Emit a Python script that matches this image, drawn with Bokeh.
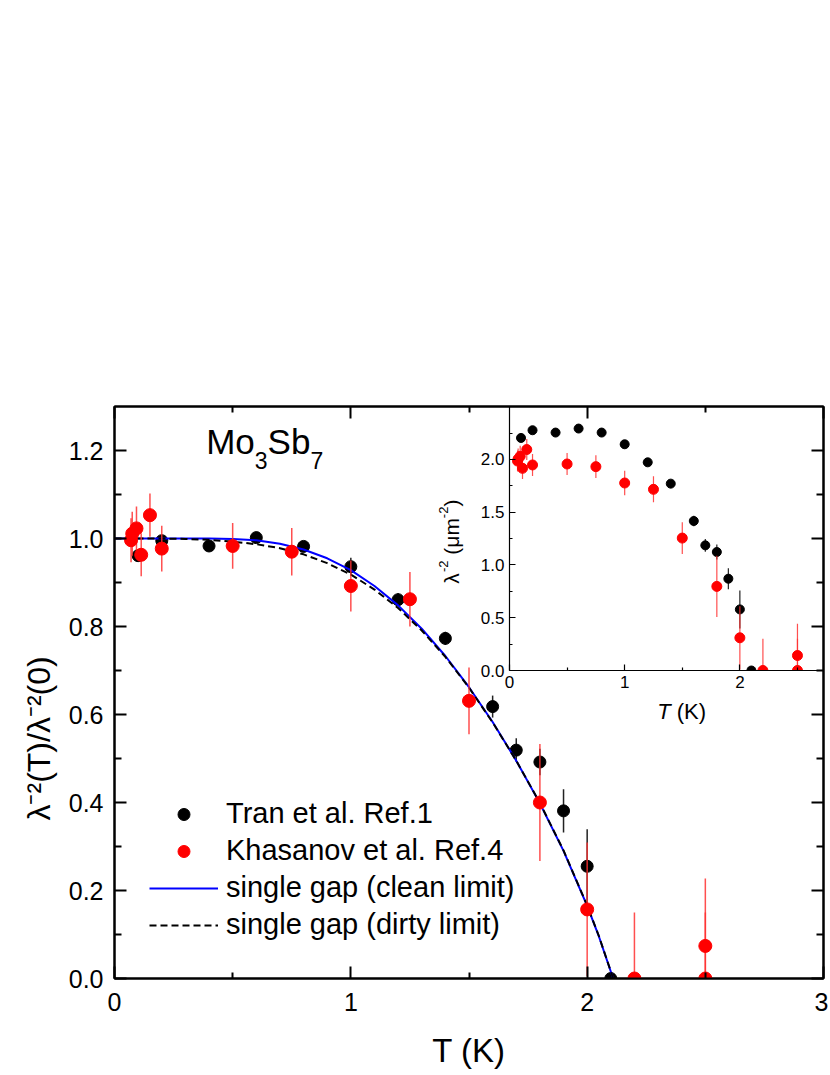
import math
from bokeh.plotting import figure
from bokeh.models import (Range1d, LinearAxis, FixedTicker, PrintfTickFormatter,
                          Label, Legend, LegendItem, Title)
from bokeh.embed import file_html
from bokeh.resources import INLINE

# ---------------- data ----------------
# Tran et al. (normalised, main panel)
T_tran = [0.1, 0.2, 0.4, 0.6, 0.8, 1.0, 1.2, 1.4, 1.6, 1.7, 1.8, 1.9, 2.0, 2.1]
v_tran = [0.961, 0.995, 0.983, 1.002, 0.982, 0.936, 0.861, 0.773, 0.618, 0.519, 0.492, 0.381, 0.255, 0.0]
e_tran = [0.01, 0.01, 0.01, 0.01, 0.01, 0.02, 0.015, 0.015, 0.025, 0.027, 0.03, 0.049, 0.084, 0.01]
# Khasanov et al. (normalised, main panel)
T_kh = [0.07, 0.075, 0.093, 0.113, 0.15, 0.2, 0.5, 0.75, 1.0, 1.25, 1.5, 1.8, 2.0, 2.2, 2.5, 2.5]
v_kh = [0.996, 1.011, 1.023, 0.963, 1.053, 0.977, 0.983, 0.970, 0.892, 0.862, 0.631, 0.400, 0.157, 0.0, 0.074, 0.0]
e_kh = [0.05, 0.05, 0.05, 0.049, 0.049, 0.052, 0.052, 0.054, 0.058, 0.062, 0.076, 0.133, 0.152, 0.15, 0.153, 0.15]
# single-gap fits
T_fit = [0, 0.1, 0.2, 0.3, 0.4, 0.5, 0.6, 0.7, 0.8, 0.9, 1.0, 1.1, 1.2, 1.3, 1.4, 1.5,
         1.6, 1.7, 1.8, 1.9, 2.0, 2.05, 2.11]
fit_clean = [1.0, 1.0, 1.0, 1.0, 1.0, 0.999, 0.996, 0.988, 0.975, 0.955, 0.928, 0.892,
             0.848, 0.795, 0.733, 0.662, 0.583, 0.495, 0.398, 0.290, 0.165, 0.095, 0.0]
fit_dirty = [1.0, 1.0, 1.0, 0.999, 0.997, 0.993, 0.987, 0.978, 0.964, 0.944, 0.918, 0.884,
             0.842, 0.791, 0.731, 0.661, 0.582, 0.495, 0.399, 0.291, 0.166, 0.096, 0.0]
# inset: absolute lambda^-2 (um^-2)
Ti_tran = [0.1, 0.2, 0.4, 0.6, 0.8, 1.0, 1.2, 1.4, 1.6, 1.7, 1.8, 1.9, 2.0, 2.1]
vi_tran = [2.204, 2.277, 2.255, 2.293, 2.255, 2.144, 1.973, 1.771, 1.417, 1.186, 1.123, 0.870, 0.579, 0.0]
ei_tran = [0.02, 0.02, 0.02, 0.02, 0.02, 0.04, 0.03, 0.03, 0.05, 0.06, 0.07, 0.10, 0.18, 0.02]
Ti_kh = [0.07, 0.075, 0.093, 0.113, 0.15, 0.2, 0.5, 0.75, 1.0, 1.25, 1.5, 1.8, 2.0, 2.2, 2.5, 2.5]
vi_kh = [1.985, 2.005, 2.03, 1.916, 2.094, 1.948, 1.957, 1.932, 1.777, 1.717, 1.255, 0.797, 0.310, 0.0, 0.142, 0.0]
ei_kh = [0.10, 0.10, 0.10, 0.10, 0.10, 0.104, 0.104, 0.107, 0.115, 0.123, 0.15, 0.29, 0.30, 0.30, 0.30, 0.30]

main_xticks = [0, 1, 2, 3]
main_xminor = [0.5, 1.5, 2.5]
main_yticks = [0.0, 0.2, 0.4, 0.6, 0.8, 1.0, 1.2]
main_yminor = [0.1, 0.3, 0.5, 0.7, 0.9, 1.1]
ins_xticks = [0, 1, 2]
ins_xminor = [0.5, 1.5, 2.5]
ins_yticks = [0.0, 0.5, 1.0, 1.5, 2.0]
ins_yminor = [0.25, 0.75, 1.25, 1.75, 2.25]

legend_labels = ["Tran et al. Ref.1", "Khasanov et al. Ref.4",
                 "single gap (clean limit)", "single gap (dirty limit)"]
main_xlabel = "T (K)"
main_ylabel = "λ⁻²(T)/λ⁻²(0)"

FONT = "Liberation Sans"
RED = "#ff0000"
BLUE = "#0000ff"
BASE_FIX = 0.45  # baseline correction (em) for hand-laid labels

# character advance widths (em) for hand-laid mixed-style texts
CW = {' ': 0.278, '(': 0.333, ')': 0.333, '/': 0.278, '.': 0.278, '-': 0.333,
      'T': 0.611, 'K': 0.667, 'λ': 0.55, 'μ': 0.576, 'm': 0.833, 'M': 0.833,
      'o': 0.556, 'S': 0.667, 'b': 0.556}


def tw(s, size):
    return sum(CW.get(c, 0.556) for c in s) * size


def pieces(fig, x, y, dx, dy, items, rotated=False, xr="default", yr="default"):
    off = 0.0
    for text, size, style, shift in items:
        lead = len(text) - len(text.lstrip(' '))
        off += lead * CW[' '] * size
        text = text.lstrip(' ')
        fix = BASE_FIX * size
        if rotated:
            lab = Label(x=x, y=y, x_offset=dx - shift - fix, y_offset=dy + off,
                        angle=math.pi / 2, text=text)
        else:
            lab = Label(x=x, y=y, x_offset=dx + off, y_offset=dy + shift + fix, text=text)
        lab.x_range_name = xr
        lab.y_range_name = yr
        lab.text_font = FONT
        lab.text_font_size = f"{size}px"
        lab.text_font_style = style
        lab.text_color = "black"
        lab.text_align = "left"
        lab.text_baseline = "alphabetic"
        fig.add_layout(lab)
        off += tw(text, size)


def style_axis(ax, ticks, minor, fmt, fs, major_in, minor_in, lw, standoff, labels=True):
    ax.ticker = FixedTicker(ticks=ticks, minor_ticks=minor)
    ax.formatter = PrintfTickFormatter(format=fmt)
    ax.major_tick_in = major_in
    ax.major_tick_out = 0
    ax.minor_tick_in = minor_in
    ax.minor_tick_out = 0
    ax.axis_line_width = lw
    ax.major_tick_line_width = lw
    ax.minor_tick_line_width = lw
    ax.axis_line_color = "black"
    ax.major_tick_line_color = "black"
    ax.minor_tick_line_color = "black"
    ax.major_label_text_font = FONT
    ax.major_label_text_color = "black"
    ax.major_label_text_font_size = fs
    ax.major_label_standoff = standoff
    if not labels:
        ax.major_label_text_font_size = "0px"
        ax.major_label_text_color = None
        ax.major_label_standoff = 0


# ---------------- main ----------------
p = figure(width=828, height=1075, x_range=Range1d(0, 3), y_range=Range1d(0, 1.3),
           output_backend="svg", toolbar_location=None, x_axis_type=None, y_axis_type=None,
           min_border_left=114, min_border_right=5, min_border_top=406, min_border_bottom=97,
           outline_line_color="black", outline_line_width=2)
# inset coordinate system placed inside the main frame
p.extra_x_ranges = {"ix": Range1d(-3.429, 2.726)}
p.extra_y_ranges = {"iy": Range1d(-2.919, 2.502)}

xb = LinearAxis(axis_label=main_xlabel)
style_axis(xb, main_xticks, main_xminor, "%d", "25px", 12, 6, 2, 14)
xb.axis_label_text_font = FONT
xb.axis_label_text_font_size = "33px"
xb.axis_label_text_font_style = "normal"
xb.axis_label_text_color = "black"
xb.axis_label_standoff = 18
p.add_layout(xb, "below")
xt = LinearAxis()
style_axis(xt, main_xticks, main_xminor, "%d", "25px", 12, 6, 2, 0, labels=False)
p.add_layout(xt, "above")
yl = LinearAxis()
style_axis(yl, main_yticks, main_yminor, "%.1f", "25px", 12, 7, 2, 11)
p.add_layout(yl, "left")
yr = LinearAxis()
style_axis(yr, main_yticks, main_yminor, "%.1f", "25px", 12, 7, 2, 0, labels=False)
p.add_layout(yr, "right")

# inset axes (fixed inside the frame)
ixa = LinearAxis(x_range_name="ix", y_range_name="iy", fixed_location=0, bounds=(0, 2.726))
style_axis(ixa, ins_xticks, ins_xminor, "%d", "17px", 6, 3, 1.2, 5)
p.add_layout(ixa, "below")
iya = LinearAxis(x_range_name="ix", y_range_name="iy", fixed_location=0, bounds=(0, 2.502))
style_axis(iya, ins_yticks, ins_yminor, "%.1f", "17px", 6, 3, 1.2, 5)
p.add_layout(iya, "left")

# y title, starting where the original starts (below the frame centre)
ytitle = Title(text=main_ylabel, align="left", offset=158, standoff=17,
               text_font=FONT, text_font_size="32px", text_font_style="normal",
               text_color="black")
p.add_layout(ytitle, "left")

# main data
p.segment(x0=T_tran, y0=[v - e for v, e in zip(v_tran, e_tran)],
          x1=T_tran, y1=[v + e for v, e in zip(v_tran, e_tran)],
          line_color="#222222", line_width=1.5)
r_tran = p.scatter(T_tran, v_tran, size=12, color="black")
r_clean = p.line(T_fit, fit_clean, line_color=BLUE, line_width=2)
r_dirty = p.line(T_fit, fit_dirty, line_color="black", line_width=2, line_dash="7 4")
p.segment(x0=T_kh, y0=[v - e for v, e in zip(v_kh, e_kh)],
          x1=T_kh, y1=[v + e for v, e in zip(v_kh, e_kh)],
          line_color="#ff3030", line_width=1.5, line_alpha=0.85)
r_kh = p.scatter(T_kh, v_kh, size=13, color=RED)


# inset data (points sitting on the inset axis are cut in half by it)
def inset_series(T, v, e, size, color, bar_color, bar_alpha):
    p.segment(x0=T, y0=[max(a - b, 0) for a, b in zip(v, e)],
              x1=T, y1=[a + b for a, b in zip(v, e)],
              line_color=bar_color, line_width=1.2, line_alpha=bar_alpha,
              x_range_name="ix", y_range_name="iy")
    above = [i for i, a in enumerate(v) if a > 0]
    onaxis = [i for i, a in enumerate(v) if a <= 0]
    p.scatter([T[i] for i in above], [v[i] for i in above], size=size, color=color,
              x_range_name="ix", y_range_name="iy")
    p.wedge(x=[T[i] for i in onaxis], y=[v[i] for i in onaxis], radius=size / 2,
            radius_units="screen", start_angle=0, end_angle=math.pi, color=color,
            x_range_name="ix", y_range_name="iy")


inset_series(Ti_tran, vi_tran, ei_tran, 9, "black", "#222222", 1.0)
inset_series(Ti_kh, vi_kh, ei_kh, 10, RED, "#ff3030", 0.85)

legend = Legend(items=[LegendItem(label=legend_labels[0], renderers=[r_tran]),
                       LegendItem(label=legend_labels[1], renderers=[r_kh]),
                       LegendItem(label=legend_labels[2], renderers=[r_clean]),
                       LegendItem(label=legend_labels[3], renderers=[r_dirty])],
                location=(35, 37), padding=0, margin=0, spacing=4,
                glyph_width=69, glyph_height=30, label_height=30, label_standoff=8,
                label_text_font=FONT, label_text_font_size="29px", label_text_color="black",
                border_line_alpha=0, background_fill_alpha=0)
p.add_layout(legend)

# compound label
pieces(p, 0.388, 1.184, 0, 0, [("Mo", 35, "normal", 0), ("3", 23, "normal", -13),
                               ("Sb", 35, "normal", 0), ("7", 23, "normal", -13)])
# inset axis titles
pieces(p, 0, 0.823, -49, 0, [("λ", 21, "normal", 0), ("-2", 13, "normal", 11),
                             (" (μm", 21, "normal", 0), ("-2", 13, "normal", 11),
                             (")", 21, "normal", 0)], rotated=True, xr="ix", yr="iy")
pieces(p, 1.282, 0, 0, -51, [("T", 22, "italic", 0), (" (K)", 22, "normal", 0)],
       xr="ix", yr="iy")

open("out.html", "w").write(file_html(p, INLINE))
